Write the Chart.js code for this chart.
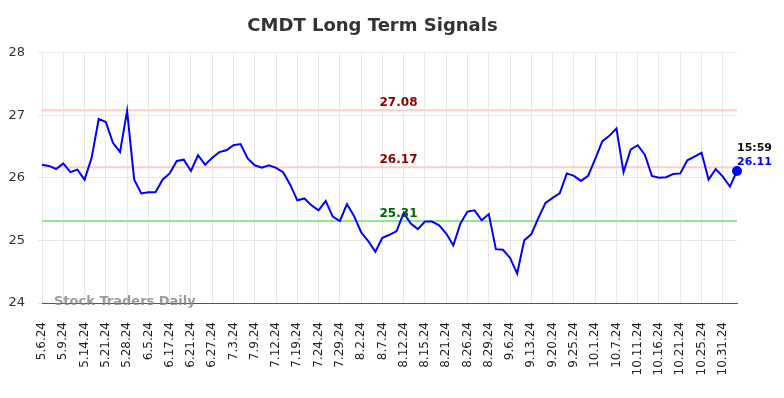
<!DOCTYPE html>
<html>
<head>
<meta charset="utf-8">
<script src="https://cdn.jsdelivr.net/npm/chart.js@4/dist/chart.umd.min.js"></script>
<style>
  html, body { margin: 0; padding: 0; background: #fff; }
  #wrap { width: 784px; height: 398px; }
</style>
</head>
<body>
<div id="wrap"><canvas id="signalsChart"></canvas></div>
<script>
// Datas (dias de pregão) - só uma a cada três aparece no eixo
const dates = [
  '5.6.24','5.7.24','5.8.24','5.9.24','5.10.24','5.13.24','5.14.24','5.16.24','5.20.24',
  '5.21.24','5.22.24','5.24.24','5.28.24','5.30.24','6.3.24','6.5.24','6.7.24','6.12.24',
  '6.17.24','6.18.24','6.20.24','6.21.24','6.24.24','6.26.24','6.27.24','6.28.24','7.1.24',
  '7.3.24','7.5.24','7.8.24','7.9.24','7.10.24','7.11.24','7.12.24','7.16.24','7.18.24',
  '7.19.24','7.22.24','7.23.24','7.24.24','7.25.24','7.26.24','7.29.24','7.31.24','8.1.24',
  '8.2.24','8.5.24','8.6.24','8.7.24','8.8.24','8.9.24','8.12.24','8.13.24','8.14.24',
  '8.15.24','8.16.24','8.20.24','8.21.24','8.22.24','8.23.24','8.26.24','8.27.24','8.28.24',
  '8.29.24','9.3.24','9.5.24','9.6.24','9.10.24','9.12.24','9.13.24','9.17.24','9.19.24',
  '9.20.24','9.23.24','9.24.24','9.25.24','9.27.24','9.30.24','10.1.24','10.3.24','10.4.24',
  '10.7.24','10.9.24','10.10.24','10.11.24','10.14.24','10.15.24','10.16.24','10.17.24','10.18.24',
  '10.21.24','10.23.24','10.24.24','10.25.24','10.29.24','10.30.24','10.31.24','11.1.24','11.4.24'
];

// Preço de fechamento
const prices = [
  26.21, 26.19, 26.14, 26.23, 26.09, 26.13, 25.97, 26.32, 26.94, 26.89,
  26.56, 26.41, 27.07, 25.97, 25.75, 25.77, 25.77, 25.97, 26.07, 26.27,
  26.29, 26.11, 26.36, 26.21, 26.32, 26.41, 26.44, 26.52, 26.54, 26.31,
  26.20, 26.16, 26.20, 26.16, 26.09, 25.89, 25.64, 25.67, 25.56, 25.48,
  25.63, 25.38, 25.31, 25.58, 25.39, 25.13, 24.99, 24.82, 25.04, 25.09,
  25.15, 25.44, 25.27, 25.18, 25.30, 25.30, 25.24, 25.11, 24.92, 25.27,
  25.46, 25.48, 25.32, 25.42, 24.86, 24.85, 24.72, 24.47, 25.00, 25.10,
  25.36, 25.60, 25.68, 25.75, 26.07, 26.03, 25.95, 26.03, 26.30, 26.58,
  26.67, 26.79, 26.09, 26.45, 26.52, 26.37, 26.03, 26.00, 26.01, 26.06,
  26.07, 26.28, 26.34, 26.40, 25.97, 26.14, 26.02, 25.86, 26.11
];

// Níveis de sinal
const levels = [27.08, 26.17, 25.31];
const levelLineColors = ['#ffcccc', '#ffcccc', '#90e890'];
const levelTextColors = ['#8b0000', '#8b0000', '#006400'];
const lastTime = '15:59';

const yTicks = [24, 25, 26, 27, 28];

// Plugin para desenhar as linhas de nível e textos
const levelsPlugin = {
  id: 'levelsPlugin',
  beforeDatasetsDraw(chart) {
    const { ctx, chartArea, scales } = chart;
    ctx.save();
    levels.forEach((lv, i) => {
      const y = scales.y.getPixelForValue(lv);
      ctx.strokeStyle = levelLineColors[i];
      ctx.lineWidth = 2;
      ctx.beginPath();
      ctx.moveTo(chartArea.left, y);
      ctx.lineTo(chartArea.right, y);
      ctx.stroke();
    });
    // marca d'água
    ctx.font = 'bold 13px "DejaVu Sans"';
    ctx.fillStyle = 'rgba(130,130,130,0.8)';
    ctx.textAlign = 'left';
    ctx.textBaseline = 'middle';
    ctx.fillText('Stock Traders Daily', chartArea.left + 12, chartArea.bottom - 1);
    ctx.restore();
  },
  afterDatasetsDraw(chart) {
    const { ctx, chartArea, scales } = chart;
    ctx.save();
    ctx.font = 'bold 12px "DejaVu Sans"';
    ctx.textAlign = 'center';
    ctx.textBaseline = 'alphabetic';
    const cx = (chartArea.left + chartArea.right) / 2 + 9;
    levels.forEach((lv, i) => {
      const y = scales.y.getPixelForValue(lv);
      ctx.fillStyle = levelTextColors[i];
      ctx.fillText(lv.toFixed(2), cx, y - 4);
    });
    // último valor
    const last = prices.length - 1;
    const px = scales.x.getPixelForValue(last);
    const py = scales.y.getPixelForValue(prices[last]);
    ctx.font = 'bold 11px "DejaVu Sans"';
    ctx.textAlign = 'left';
    ctx.fillStyle = '#111';
    ctx.fillText(lastTime, px, py - 20);
    ctx.fillStyle = '#0000ff';
    ctx.fillText(prices[last].toFixed(2), px, py - 6);
    ctx.restore();
  }
};

const ctxSignals = document.getElementById('signalsChart').getContext('2d');
const signalsChart = new Chart(ctxSignals, {
  type: 'line',
  data: {
    labels: dates,
    datasets: [{
      label: 'CMDT',
      data: prices,
      borderColor: '#0000ff',
      backgroundColor: '#0000ff',
      borderWidth: 2,
      tension: 0,
      pointRadius: ctx => ctx.dataIndex === prices.length - 1 ? 4 : 0,
      pointHoverRadius: 0
    }]
  },
  options: {
    responsive: true,
    maintainAspectRatio: false,
    animation: false,
    layout: { padding: { left: 8, right: 47, top: 0, bottom: 22 } },
    plugins: {
      legend: { display: false },
      tooltip: { enabled: false },
      title: {
        display: true,
        text: 'CMDT Long Term Signals',
        color: '#333',
        font: { family: '"DejaVu Sans"', size: 18, weight: 'bold' },
        padding: { top: 16, bottom: 15 }
      }
    },
    scales: {
      x: {
        grid: { color: '#e8e8e8', drawTicks: false },
        border: { color: '#555', width: 1 },
        afterFit: axis => {
          axis.height = 73;
          axis.paddingLeft = 0;
          axis.paddingRight = 0;
        },
        ticks: {
          autoSkip: false,
          minRotation: 90,
          maxRotation: 90,
          padding: 19,
          color: '#222',
          font: { family: '"DejaVu Sans"', size: 12 },
          callback: function(val, idx) {
            return idx % 3 === 0 ? dates[idx] : null;
          }
        }
      },
      y: {
        min: 24,
        max: 28,
        afterBuildTicks: axis => { axis.ticks = yTicks.map(v => ({ value: v })); },
        afterFit: axis => { axis.width = 34; },
        grid: { color: '#e8e8e8', tickLength: 4 },
        border: { display: false },
        ticks: {
          padding: 13,
          color: '#333',
          font: { family: '"DejaVu Sans"', size: 13 }
        }
      }
    }
  },
  plugins: [levelsPlugin]
});
</script>
</body>
</html>
